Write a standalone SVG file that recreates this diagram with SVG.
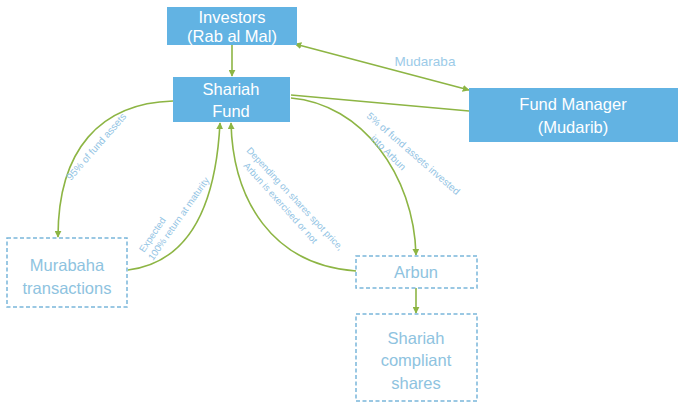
<svg xmlns="http://www.w3.org/2000/svg" width="678" height="403" viewBox="0 0 678 403">
<style>
.box{fill:#62b3e3;stroke:none}
.bt{font-family:"Liberation Sans",Arial,sans-serif;font-size:16.5px;fill:#ffffff;text-anchor:middle}
.dbox{fill:#ffffff;stroke:#7ab6da;stroke-width:1.5;stroke-dasharray:4 2.5}
.dt{font-family:"Liberation Sans",Arial,sans-serif;font-size:16.5px;fill:#8ec3e0;text-anchor:middle}
.ln{fill:none;stroke:#8db544;stroke-width:1.6}
.lb{font-family:"Liberation Sans",Arial,sans-serif;font-size:9.5px;fill:#93c4e4}
.lbm{font-family:"Liberation Sans",Arial,sans-serif;font-size:13.5px;fill:#9ccbe8}
</style>
<defs>
<marker id="ah" viewBox="0 0 10 10" refX="9" refY="5" markerWidth="7" markerHeight="7" markerUnits="userSpaceOnUse" orient="auto-start-reverse">
<path d="M0,0 L10,5 L0,10 z" fill="#8db544"/>
</marker>
</defs>
<rect width="678" height="403" fill="#ffffff"/>
<g id="connectors">
<path class="ln" d="M232,45 L232,76" marker-end="url(#ah)"/>
<path class="ln" d="M295,44 L469,90" marker-start="url(#ah)" marker-end="url(#ah)"/>
<path class="ln" d="M291,95 L469,111"/>
<path class="ln" d="M173,101 C100,103 58,150 58,237" marker-end="url(#ah)"/>
<path class="ln" d="M128,270 C192,262 216,200 220,123" marker-end="url(#ah)"/>
<path class="ln" d="M356,271 C272,265 233,200 231,123" marker-end="url(#ah)"/>
<path class="ln" d="M291,98 C362,104 414,175 416,255" marker-end="url(#ah)"/>
<path class="ln" d="M416,288 L416,313" marker-end="url(#ah)"/>
<text class="lbm" x="425" y="66" text-anchor="middle">Mudaraba</text>
<text class="lb" transform="translate(71,181) rotate(-49)" style="font-size:10px">95% of fund assets</text>
<text class="lb" transform="translate(144,253) rotate(-56)">Expected</text>
<text class="lb" transform="translate(153,261) rotate(-55)">100% return at maturity</text>
<text class="lb" transform="translate(246,151) rotate(47)">Depending on shares spot price,</text>
<text class="lb" transform="translate(243,166) rotate(48)">Arbun is exercised or not</text>
<text class="lb" transform="translate(366,117) rotate(41)" style="font-size:10px">5% of fund assets invested</text>
<text class="lb" transform="translate(370,139) rotate(45)" style="font-size:10px">into Arbun</text>
</g>
<g id="investors">
<rect class="box" x="167" y="7" width="130" height="38"/>
<text class="bt" x="232" y="23">Investors</text>
<text class="bt" x="232" y="42">(Rab al Mal)</text>
</g>
<g id="shariah-fund">
<rect class="box" x="173" y="77" width="117" height="45"/>
<text class="bt" x="231" y="95">Shariah</text>
<text class="bt" x="231" y="117">Fund</text>
</g>
<g id="fund-manager">
<rect class="box" x="469" y="88" width="209" height="54"/>
<text class="bt" x="573" y="110">Fund Manager</text>
<text class="bt" x="573" y="133">(Mudarib)</text>
</g>
<g id="murabaha">
<rect class="dbox" x="7" y="238" width="120" height="69"/>
<text class="dt" x="67" y="271">Murabaha</text>
<text class="dt" x="67" y="294">transactions</text>
</g>
<g id="arbun">
<rect class="dbox" x="356" y="256" width="121" height="32"/>
<text class="dt" x="416" y="278">Arbun</text>
</g>
<g id="shares">
<rect class="dbox" x="356" y="314" width="121" height="87"/>
<text class="dt" x="416" y="344">Shariah</text>
<text class="dt" x="416" y="366">compliant</text>
<text class="dt" x="416" y="389">shares</text>
</g>
</svg>
